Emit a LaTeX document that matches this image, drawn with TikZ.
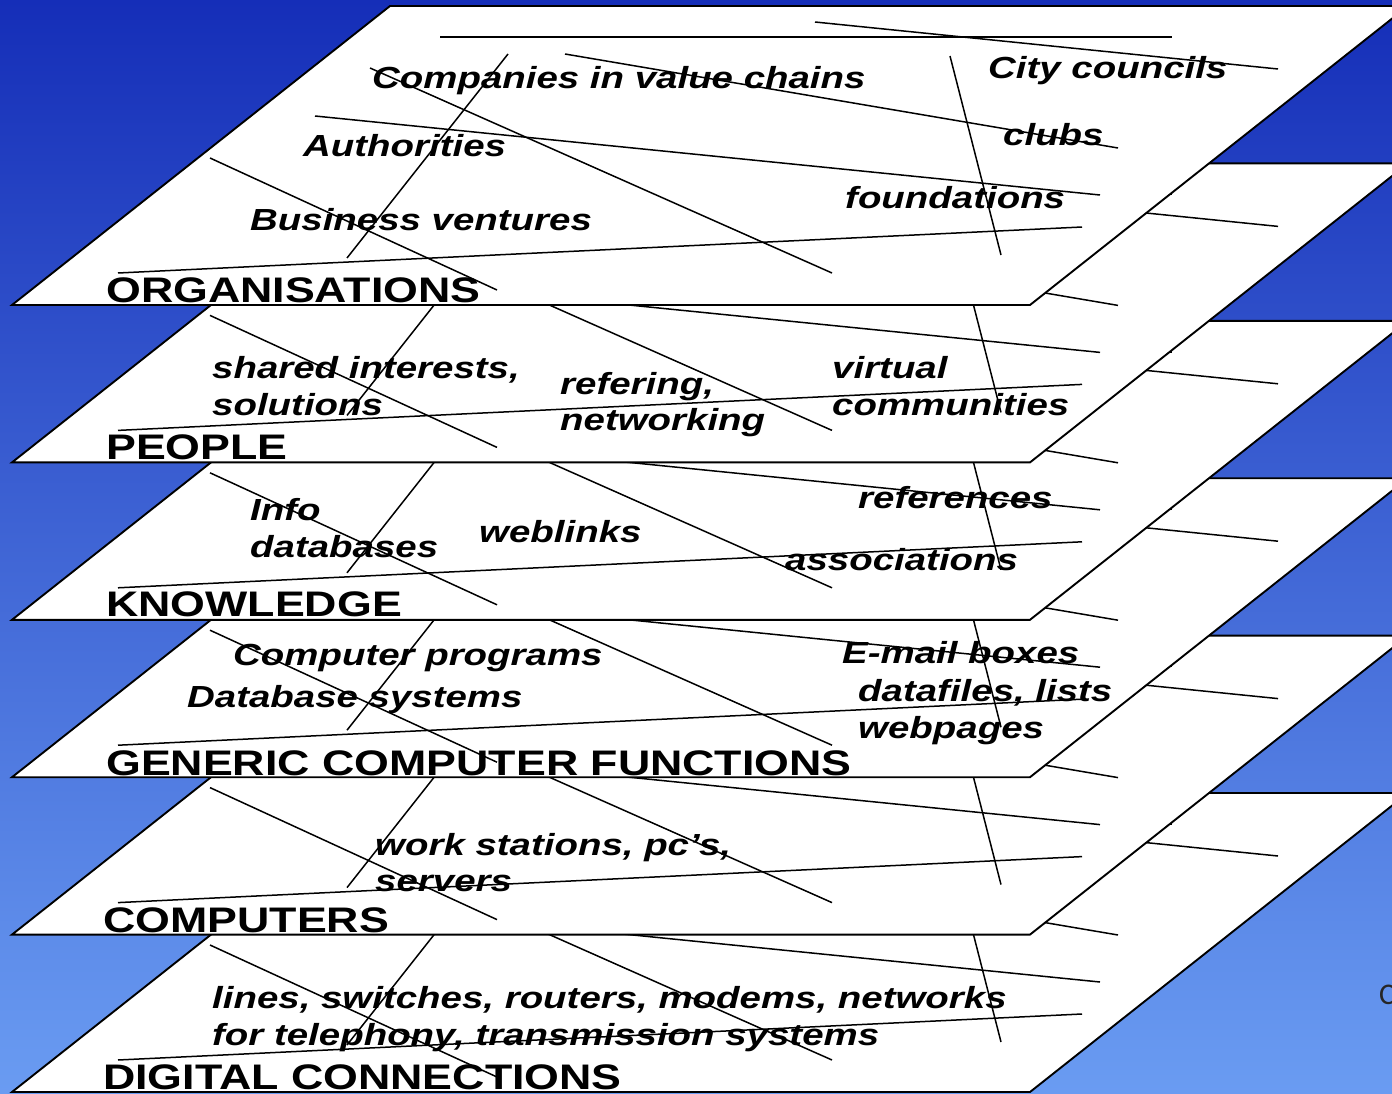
\documentclass[tikz,border=0pt]{standalone}
\usepackage{fontspec}
\newfontfamily\itemfont[FakeStretch=1.26]{Liberation Sans}
\newfontfamily\cfont{Carlito}
\definecolor{bgtop}{RGB}{21,46,184}
\definecolor{bgbot}{RGB}{106,156,242}
\tikzset{
  layer/.style={draw=black, fill=white, line width=1.9pt, line join=miter},
  tline/.style={draw=black, line width=1.5pt},
  itm/.style={anchor=base west, inner sep=0pt, text=black,
    font=\itemfont\bfseries\itshape\fontsize{30.5}{36}\selectfont},
  lbl/.style={anchor=base west, inner sep=0pt, text=black,
    font=\itemfont\bfseries\fontsize{35.5}{42}\selectfont},
}
\begin{document}
\begin{tikzpicture}[x=1pt,y=-1pt]
\useasboundingbox (0,0) rectangle (1392,1094);
\shade[top color=bgtop,bottom color=bgbot] (0,0) rectangle (1392,1094);
% layers, bottom first
\foreach \i in {5,4,3,2,1,0}{
  \begin{scope}[yshift={-\i*157.4pt}]
    \path[layer] (12,305) -- (390,6) -- (1408,6) -- (1030,305) -- cycle;
    \draw[tline] (440,37) -- (1172,37);
    \draw[tline] (815,22) -- (1278,69);
    \draw[tline] (508,54) -- (347,258);
    \draw[tline] (370,68) -- (832,273);
    \draw[tline] (565,54) -- (1118,148);
    \draw[tline] (315,116) -- (1100,195);
    \draw[tline] (210,158) -- (497,290);
    \draw[tline] (118,273) -- (1082,227);
    \draw[tline] (950,56) -- (1001,255);
  \end{scope}
}
% ORGANISATIONS
\node[itm] (t-comp) at (372,89) {Companies in value chains};
\node[itm] (t-city) at (988,79) {City councils};
\node[itm] (t-auth) at (303,157) {Authorities};
\node[itm] (t-club) at (1003,146) {clubs};
\node[itm] (t-found) at (845,209) {foundations};
\node[itm] (t-bus) at (250,231) {Business ventures};
\node[lbl] (l-org) at (106,302) {ORGANISATIONS};
% PEOPLE
\node[itm] (t-shared) at (212,378) {shared interests,};
\node[itm] (t-sol) at (212,415) {solutions};
\node[itm] (t-ref) at (560,394) {refering,};
\node[itm] (t-net) at (560,430) {networking};
\node[itm] (t-virt) at (832,378) {virtual};
\node[itm] (t-comm) at (832,415) {communities};
\node[lbl] (l-people) at (106,459) {PEOPLE};
% KNOWLEDGE
\node[itm] (t-info) at (250,520) {Info};
\node[itm] (t-db) at (250,557) {databases};
\node[itm] (t-web) at (479,542) {weblinks};
\node[itm] (t-refs) at (858,508) {references};
\node[itm] (t-assoc) at (785,570) {associations};
\node[lbl] (l-know) at (106,616) {KNOWLEDGE};
% GENERIC COMPUTER FUNCTIONS
\node[itm] (t-prog) at (233,665) {Computer programs};
\node[itm] (t-dbs) at (187,707) {Database systems};
\node[itm] (t-email) at (842,663) {E-mail boxes};
\node[itm] (t-files) at (858,701) {datafiles, lists};
\node[itm] (t-webp) at (858,738) {webpages};
\node[lbl] (l-gen) at (106,775) {GENERIC COMPUTER FUNCTIONS};
% COMPUTERS
\node[itm] (t-ws) at (375,855) {work stations, pc’s,};
\node[itm] (t-serv) at (375,891) {servers};
\node[lbl] (l-comp) at (103,932) {COMPUTERS};
% DIGITAL CONNECTIONS
\node[itm] (t-lines) at (212,1008) {lines, switches, routers, modems, networks};
\node[itm] (t-tel) at (212,1045) {for telephony, transmission systems};
\node[lbl] (l-dig) at (103,1089) {DIGITAL CONNECTIONS};
% letter cut off at the right edge, as in the reference
\node[anchor=base west, inner sep=0pt, text=black!85, font=\cfont\fontsize{30}{36}\selectfont] (t-c) at (1379,1004) {C};
\end{tikzpicture}
\end{document}
